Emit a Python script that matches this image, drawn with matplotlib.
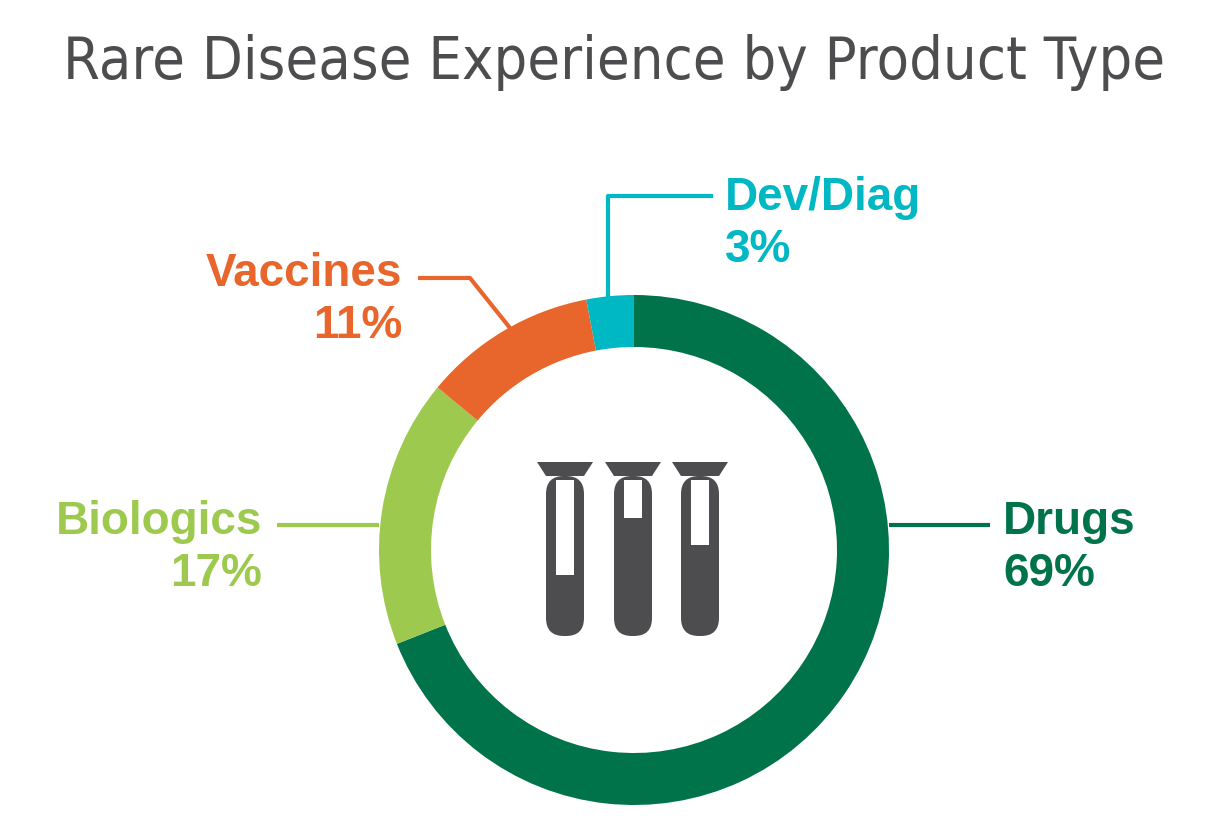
import matplotlib
matplotlib.use("Agg")
import matplotlib.pyplot as plt
from matplotlib.patches import Polygon, FancyBboxPatch, Rectangle

categories = ["Drugs", "Biologics", "Vaccines", "Dev/Diag"]
values = [69, 17, 11, 3]
colors = ["#00734a", "#9dca4e", "#e8662b", "#00b8c4"]

H = 833
fig = plt.figure(figsize=(12.28, 8.33), dpi=100)
ax = fig.add_axes([0, 0, 1, 1])
ax.set_xlim(0, 1228); ax.set_ylim(0, H); ax.set_aspect("equal"); ax.axis("off")
Y = lambda y: H - y

ax.pie(values, colors=colors, startangle=90, counterclock=False, center=(634, Y(550)),
       radius=255, wedgeprops=dict(width=52, edgecolor="none"), frame=True)
ax.set_xlim(0, 1228); ax.set_ylim(0, H); ax.axis("off")

t = ax.text(614, Y(62), "Rare Disease Experience by Product Type", ha="center", va="center",
            fontsize=50, color="#4d4d4f", family="DejaVu Sans", fontstretch="condensed")
r = fig.canvas.get_renderer()
w = t.get_window_extent(r).width
t.set_fontsize(50 * 1100 / w)

lw = 3
def line(xs, ys, c):
    ax.plot(xs, [Y(y) for y in ys], color=c, lw=lw, solid_capstyle="butt")

line([889, 990], [525, 525], colors[0])
line([277, 379], [525, 525], colors[1])
line([418, 470, 510], [278, 278, 328], colors[2])
line([713, 608, 608], [196, 196, 298], colors[3])

def lab(x, y1, name, pct, c, ha):
    kw = dict(ha=ha, va="center", fontsize=33, fontweight="bold", color=c, family="Liberation Sans")
    ax.text(x, Y(y1), name, **kw)
    ax.text(x, Y(y1 + 52), f"{pct}%", **kw)

lab(1003, 522, categories[0], values[0], colors[0], "left")
lab(262, 522, categories[1], values[1], colors[1], "right")
lab(402, 274, categories[2], values[2], colors[2], "right")
lab(725, 198, categories[3], values[3], colors[3], "left")

g = "#4d4d4f"
for cx, wtop, wbot in [(565, 480, 575), (633, 480, 518), (700, 480, 545)]:
    ax.add_patch(Polygon([(cx - 28, Y(462)), (cx + 28, Y(462)), (cx + 19, Y(476)), (cx - 19, Y(476))],
                         closed=True, color=g, lw=0))
    ax.add_patch(FancyBboxPatch((cx - 19, Y(636)), 38, 160, boxstyle="round,pad=0,rounding_size=18",
                                color=g, lw=0))
    ax.add_patch(Rectangle((cx - 9, Y(wbot)), 18, wbot - wtop, color="white", lw=0))

fig.savefig("out.png", dpi=100, facecolor="white")
